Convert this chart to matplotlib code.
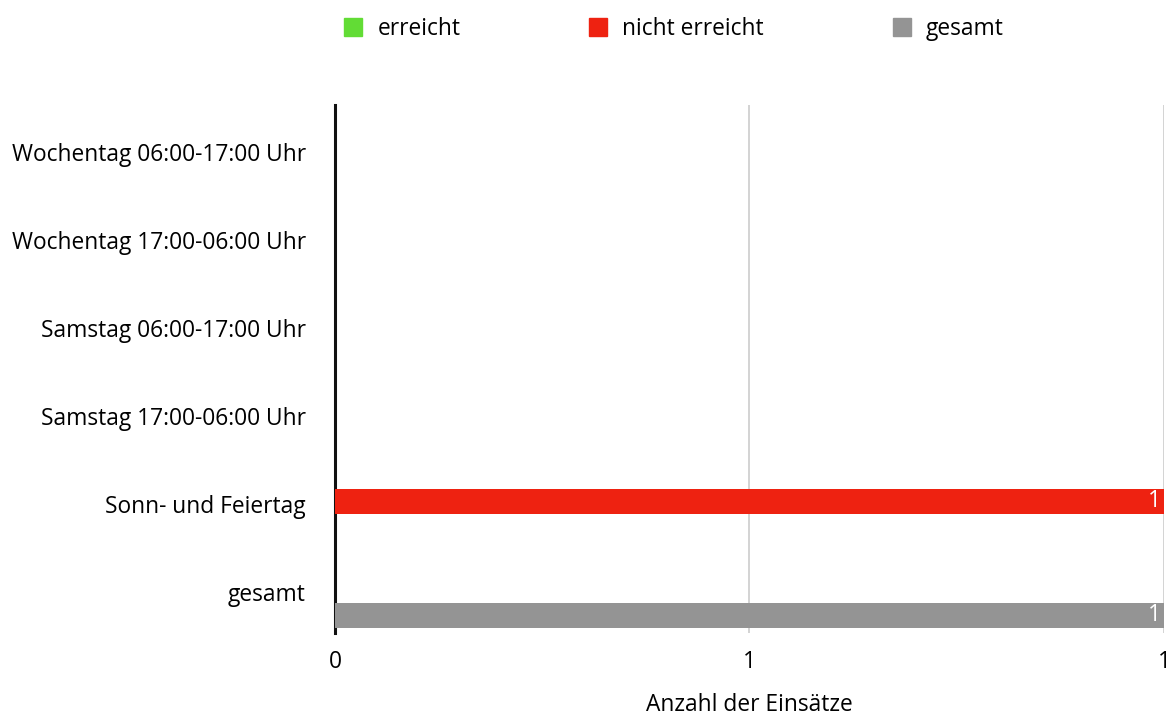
import matplotlib.pyplot as plt
from matplotlib.lines import Line2D
from matplotlib.transforms import offset_copy

categories = ['Wochentag 06:00-17:00 Uhr', 'Wochentag 17:00-06:00 Uhr',
              'Samstag 06:00-17:00 Uhr', 'Samstag 17:00-06:00 Uhr',
              'Sonn- und Feiertag', 'gesamt']
series = ['erreicht', 'nicht erreicht', 'gesamt']
erreicht = [0, 0, 0, 0, 0, 0]
nicht_erreicht = [0, 0, 0, 0, 1, 0]
gesamt = [0, 0, 0, 0, 0, 1]
xticks = [0, 0.5, 1]
xtick_labels = ['0', '1', '1']

colors = ['#62dc35', '#ee2211', '#949494']
plt.rcParams['font.family'] = ['Open Sans', 'DejaVu Sans']
fs = 16.4

fig = plt.figure(figsize=(11.75, 7.16), dpi=100)
ax = fig.add_axes([0.2851, 0.1159, 0.9906 - 0.2851, 0.8534 - 0.1159])

values = [erreicht, nicht_erreicht, gesamt]
offsets = [-0.3, 0.0, 0.3]
for vals, off, col in zip(values, offsets, colors):
    for i, v in enumerate(vals):
        if v > 0:
            ax.barh(i + off, v, height=0.284, color=col, zorder=3)
            ax.text(v - 0.004, i + off, str(v), color='white', ha='right',
                    va='center', fontsize=fs, zorder=4)

ax.set_ylim(len(categories) - 0.5, -0.5)
ax.set_xlim(0, 1)
ax.set_yticks(range(len(categories)))
ax.set_yticklabels(categories, fontsize=fs)
ax.set_xticks(xticks)
ax.set_xticklabels(xtick_labels, fontsize=fs)
ax.tick_params(axis='both', length=0)
ax.tick_params(axis='y', pad=21)
ax.tick_params(axis='x', pad=12)
for lbl in ax.get_yticklabels():
    lbl.set_verticalalignment('center')
    lbl.set_transform(offset_copy(lbl.get_transform(), fig=fig, y=-4, units='points'))

ax.grid(axis='x', color='#cccccc', linewidth=1.2, zorder=0)
ax.grid(axis='y', visible=False)
for s in ['top', 'right', 'bottom']:
    ax.spines[s].set_visible(False)
ax.spines['left'].set_linewidth(2.2)
ax.spines['left'].set_color('#111111')
ax.set_xlabel('Anzahl der Einsätze', fontsize=fs, labelpad=14)

handles = [Line2D([0], [0], marker='s', linestyle='', markersize=13,
                  markerfacecolor=c, markeredgecolor=c) for c in colors]
fig.legend(handles, series, loc='center', bbox_to_anchor=(0.5735, 0.959),
           ncol=3, frameon=False, fontsize=fs, handlelength=0.8,
           handletextpad=0.65, columnspacing=5.65)

plt.savefig('out.png', dpi=100)
